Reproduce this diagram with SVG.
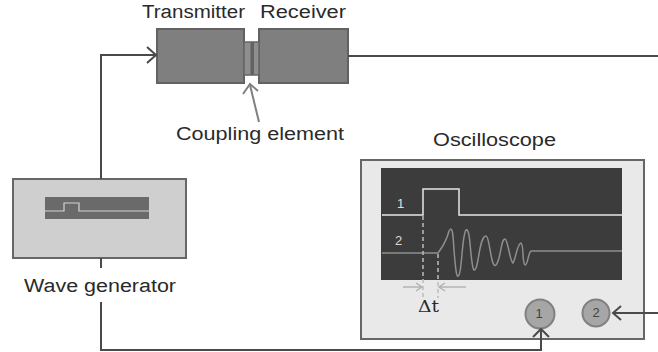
<svg xmlns="http://www.w3.org/2000/svg" width="658" height="352" viewBox="0 0 658 352">
<style>
text{font-family:"Liberation Sans",Arial,sans-serif;fill:#2a2a2a;font-size:18px}
.dk{fill:none;stroke:#4a4a4a;stroke-width:2}
.box{fill:#7f7f7f;stroke:#626262;stroke-width:2}
.g{fill:none;stroke:#b4b4b4;stroke-width:1.5}
.d{fill:none;stroke:#bcbcbc;stroke-width:1.5;stroke-dasharray:4 3}
.sig{fill:none;stroke:#e6e6e6;stroke-width:1.5}
.knob{fill:#a6a6a6;stroke:#808080;stroke-width:2}
.kt{font-size:13px;fill:#444;text-anchor:middle}
</style>
<rect width="658" height="352" fill="#fff"/>
<g id="transmitter"><rect class="box" x="157" y="29" width="87" height="54"/><text x="142" y="18" textLength="103" lengthAdjust="spacingAndGlyphs">Transmitter</text></g>
<g id="receiver"><rect class="box" x="259" y="29" width="89" height="54"/><text x="260" y="18" textLength="86" lengthAdjust="spacingAndGlyphs">Receiver</text></g>
<g id="coupling"><rect x="244" y="42" width="15" height="33" fill="#8e8e8e" stroke="#666" stroke-width="1.5"/><rect x="250.5" y="42" width="3.5" height="33" fill="#626262"/><text x="176" y="140" textLength="168" lengthAdjust="spacingAndGlyphs">Coupling element</text></g>
<g id="generator"><rect x="13" y="179" width="173" height="79" fill="#cfcfcf" stroke="#666" stroke-width="2"/><rect x="45" y="197" width="104" height="22" fill="#6a6a6a"/><path d="M45 211H64V203H79V211H149" fill="none" stroke="#d4d4d4" stroke-width="1.2"/><text x="24" y="292" textLength="152" lengthAdjust="spacingAndGlyphs">Wave generator</text></g>
<g id="oscilloscope"><rect x="361" y="160" width="283" height="179" fill="#e9e9e9" stroke="#666" stroke-width="2"/><rect x="381" y="168" width="241" height="112" fill="#3c3c3c"/>
<path class="sig" d="M382 215H423V189H459V215H622"/>
<path d="M382 253H438C442 247 446 243 449 231C452 225 453 232 454 250C456 275 457 279 459 275C462 270 462 235 466 230C470 228 470 250 472 262C473 270 474 272 476 268C479 260 480 236 486 236C489 236 490 255 493 263C495 268 497 265 499 258C502 246 502 239 505 239C508 240 510 262 513 263C516 258 517 244 521 243C524 245 522 263 525 265C528 265 528 253 531 251H622" fill="none" stroke="#8f8f8f" stroke-width="1.5"/>
<path class="d" d="M423 216V298M438 254V298"/>
<path class="g" d="M403 287H422M416 283L422 287L416 291M466 287H439M445 283L439 287L445 291"/>
<text x="397" y="208" style="fill:#e0e0e0;font-size:13px">1</text><text x="395" y="245" style="fill:#d8d8d8;font-size:13px">2</text>
<text x="418" y="312" textLength="21" lengthAdjust="spacingAndGlyphs" style="font-family:'DejaVu Serif',serif;font-size:17px">Δt</text>
<text x="433" y="146" textLength="123" lengthAdjust="spacingAndGlyphs">Oscilloscope</text></g>
<g id="knob1"><circle class="knob" cx="540" cy="314" r="14.5"/><text class="kt" x="539" y="318">1</text></g>
<g id="knob2"><circle class="knob" cx="596" cy="313" r="13.5"/><text class="kt" x="596" y="317">2</text></g>
<g id="connectors">
<path class="dk" d="M101 179V55H155"/><path class="dk" d="M147 47L156 55L147 63"/>
<path class="dk" d="M348 56H658"/>
<path class="dk" d="M101 258V268M101 302V350H541V330"/><path class="dk" d="M533 337L541 329L549 337"/>
<path class="dk" d="M658 313H613"/><path class="dk" d="M621 306L613 313L621 320"/>
<path d="M259 122L250 85" fill="none" stroke="#808080" stroke-width="2"/><path d="M243 94L250 84L258 91" fill="none" stroke="#808080" stroke-width="2"/>
</g>
</svg>
